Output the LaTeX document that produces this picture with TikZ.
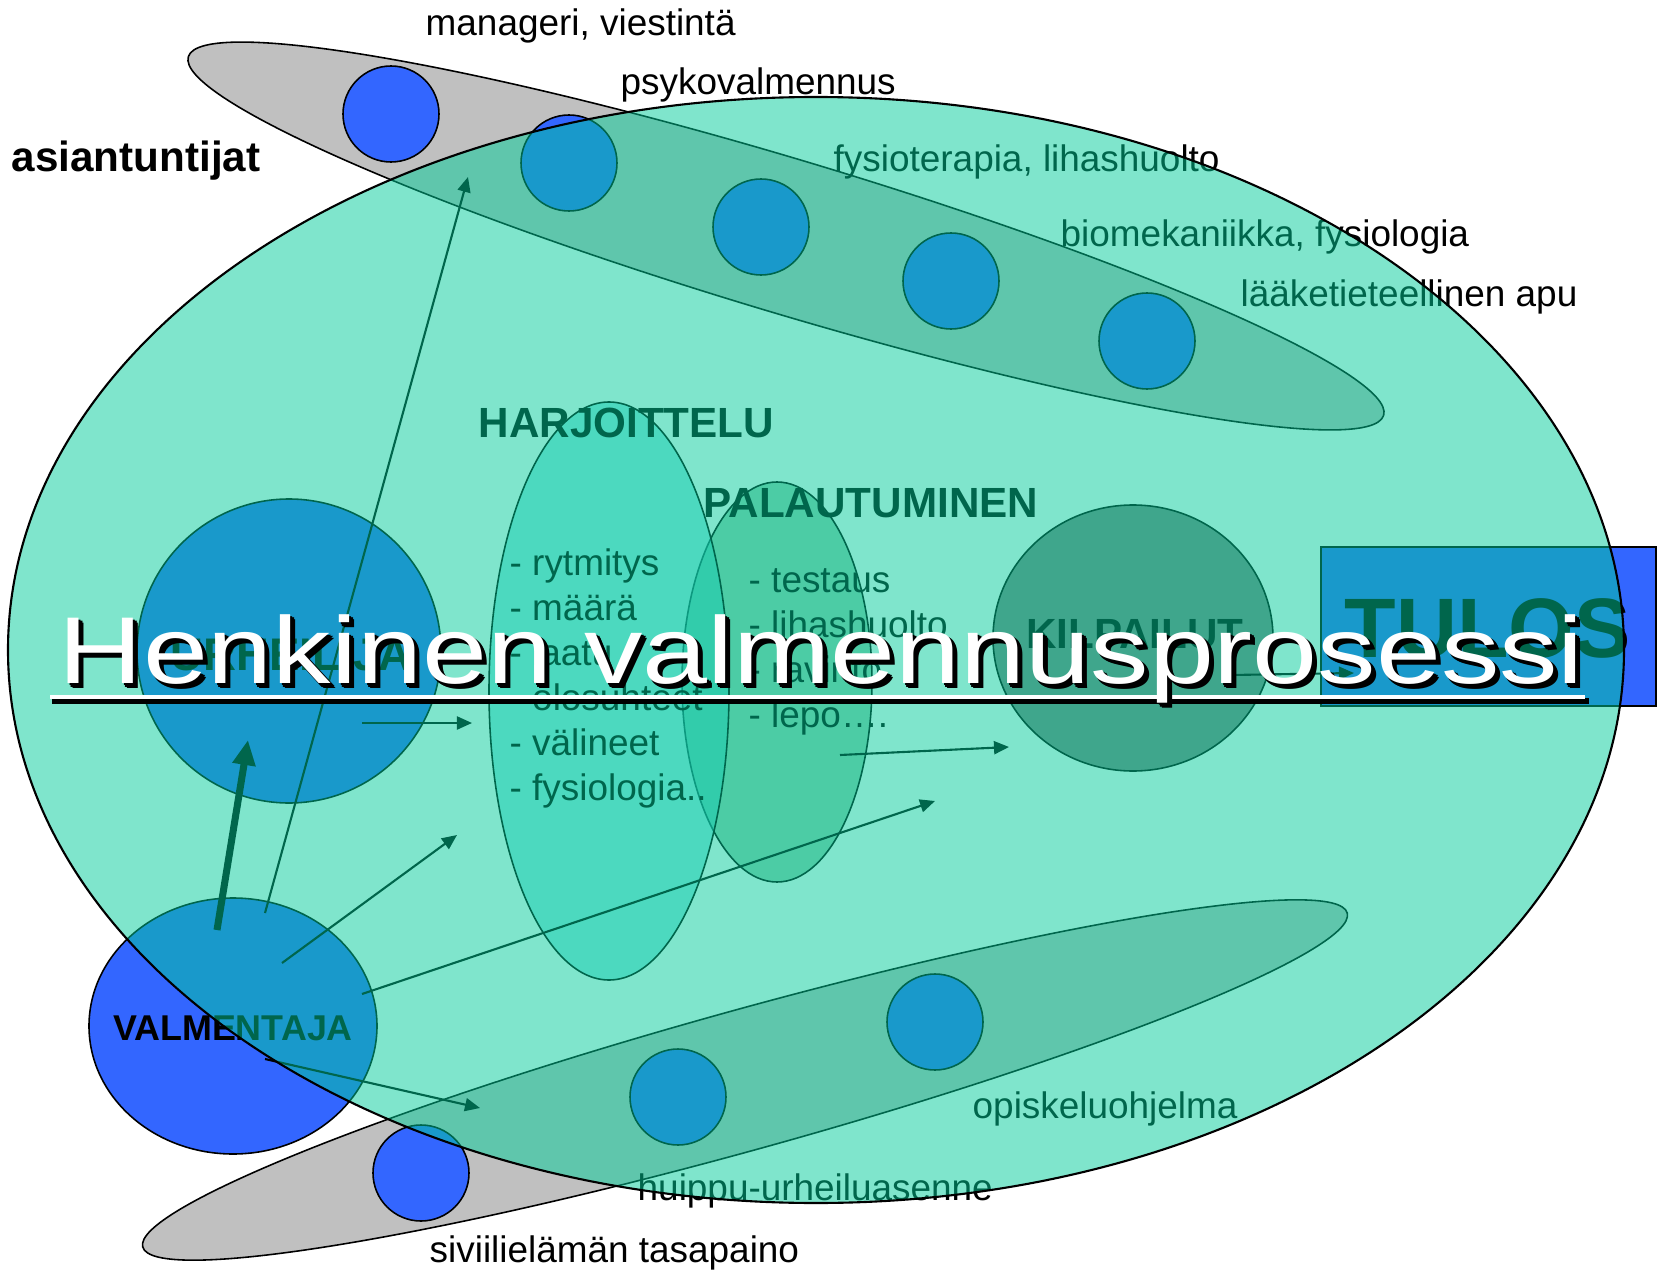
\documentclass[tikz,border=0pt]{standalone}
\usepackage{fontspec}
\setmainfont{Liberation Sans}
\usepackage{graphicx}
\usetikzlibrary{arrows.meta}
\definecolor{myblue}{RGB}{51, 102, 255}
\definecolor{mygray1}{RGB}{192, 192, 192}
\definecolor{mygray2}{RGB}{128, 128, 128}
\definecolor{myteal}{RGB}{0, 204, 153}
\definecolor{mycyan}{RGB}{51, 204, 204}
\definecolor{mysage}{RGB}{153, 204, 179}
\tikzset{>={Triangle[length=0.15cm, width=0.13cm]}}
\newcommand{\otsikko}{\scalebox{1.23}[1]{\fontsize{27}{30}\selectfont Henkinen valmennusprosessi}}

\begin{document}
\begin{tikzpicture}[
    x = 0.01cm, y = 0.01cm,
    d0/.style = {line width = 0.45pt},
    spot/.style = {d0, fill = myblue},
    ar/.style = {->, line width = 0.6pt},
    lbl/.style = {anchor = base west, inner sep = 0, font = \fontsize{10.5}{12}\selectfont},
    hd/.style = {anchor = base west, inner sep = 0, font = \fontsize{12}{14}\selectfont\bfseries}
]

\useasboundingbox (0,0) rectangle (1657,-1273);

% asiantuntijat
\draw[d0, fill = mygray1, rotate around = {-16.7:(786,-236)}] (786,-236) ellipse [x radius = 624, y radius = 77];
\foreach \p in {(391,-114), (569,-163), (761,-227), (951,-281), (1147,-341)}
  \draw[spot] \p circle (48);

% elama
\draw[d0, fill = mygray1, rotate around = {15.5:(745,-1080)}] (745,-1080) ellipse [x radius = 625, y radius = 70];
\foreach \p in {(421,-1173), (678,-1097), (935,-1022)}
  \draw[spot] \p circle (48);

\draw[spot] (233,-1026) ellipse [x radius = 144, y radius = 128];
\draw[spot] (289,-651) circle (152);

\draw[d0, fill = mysage] (777,-682) ellipse [x radius = 95, y radius = 200];
\draw[d0, fill = mycyan, fill opacity = 0.5] (609,-691) ellipse [x radius = 120, y radius = 289];
\draw[d0, fill = mygray2] (1133,-638) ellipse [x radius = 140, y radius = 133];
\draw[d0, fill = myblue] (1321,-547) rectangle (1656,-706);

\node[hd] (asi) at (11,-172) {asiantuntijat};
\node[lbl] (man) at (425,-36) {manageri, viestintä};
\node[lbl] (psy) at (620,-95) {psykovalmennus};
\node[lbl] (fys) at (833,-172) {fysioterapia, lihashuolto};
\node[lbl] (bio) at (1060,-247) {biomekaniikka, fysiologia};
\node[lbl] (laa) at (1240,-307) {lääketieteellinen apu};
\node[lbl] (opi) at (972,-1118) {opiskeluohjelma};
\node[lbl] (hui) at (637,-1200) {huippu-urheiluasenne};
\node[lbl] (siv) at (429,-1262) {siviilielämän tasapaino};

\node[hd] (harj) at (478,-437) {HARJOITTELU};
\node[hd] (pal) at (703,-517) {PALAUTUMINEN};
\foreach \t [count = \i] in {rytmitys, määrä, laatu, olosuhteet, välineet, fysiologia..}
  \node[lbl] (h\i) at (509,-530-45*\i) {- \t};
\foreach \t [count = \i] in {testaus, lihashuolto, ravinto, lepo….}
  \node[lbl] (p\i) at (748,-547-45*\i) {- \t};

\node[hd, anchor = base, font = \fontsize{10.2}{12}\selectfont\bfseries] (valm) at (233,-1040) {VALMENTAJA};
\node[hd, anchor = base, font = \fontsize{13}{15}\selectfont\bfseries] (urh) at (291,-670) {URHEILIJA};
\node[hd, anchor = base] (kil) at (1135,-648) {KILPAILUT};
\node[hd, font = \fontsize{24}{28}\selectfont\bfseries] (tulos) at (1344,-657) {TULOS};

% nuolet
\coordinate (v1) at (217,-930);  \coordinate (u1) at (248,-740);
\coordinate (v2) at (265,-913);  \coordinate (a1) at (468,-177);
\coordinate (v3) at (282,-963);  \coordinate (h0) at (457,-835);
\coordinate (v4) at (362,-994);  \coordinate (k1) at (935,-801);
\coordinate (v5) at (265,-1059); \coordinate (s1) at (480,-1108);
\coordinate (u2) at (362,-723);  \coordinate (h7) at (472,-723);
\coordinate (p5) at (840,-755);  \coordinate (k2) at (1009,-747);
\coordinate (k3) at (1232,-675); \coordinate (t1) at (1354,-673);

\draw[->, line width = 2pt, >={Triangle[length=0.25cm, width=0.22cm]}] (v1) -- (u1);
\draw[ar] (v2) -- (a1);
\draw[ar] (v3) -- (h0);
\draw[ar] (v4) -- (k1);
\draw[ar] (v5) -- (s1);
\draw[ar] (u2) -- (h7);
\draw[ar] (p5) -- (k2);
\draw[ar] (k3) -- (t1);

% prosessi
\draw[line width = 0.6pt, fill = myteal, fill opacity = 0.5] (816,-650) ellipse [x radius = 808, y radius = 553];

\draw[line width = 1.6pt, black] (52,-701) -- (1589,-701);
\draw[line width = 1.4pt, white] (50,-697) -- (1585,-697);
\foreach \dx/\dy in {2/2, 3/4, 4/3, 5/5}
  \node[anchor = base west, inner sep = 0, text = black] at (58+\dx,-683-\dy) {\otsikko};
\node[anchor = base west, inner sep = 0, text = white] (ots) at (58,-683) {\otsikko};

\end{tikzpicture}
\end{document}
